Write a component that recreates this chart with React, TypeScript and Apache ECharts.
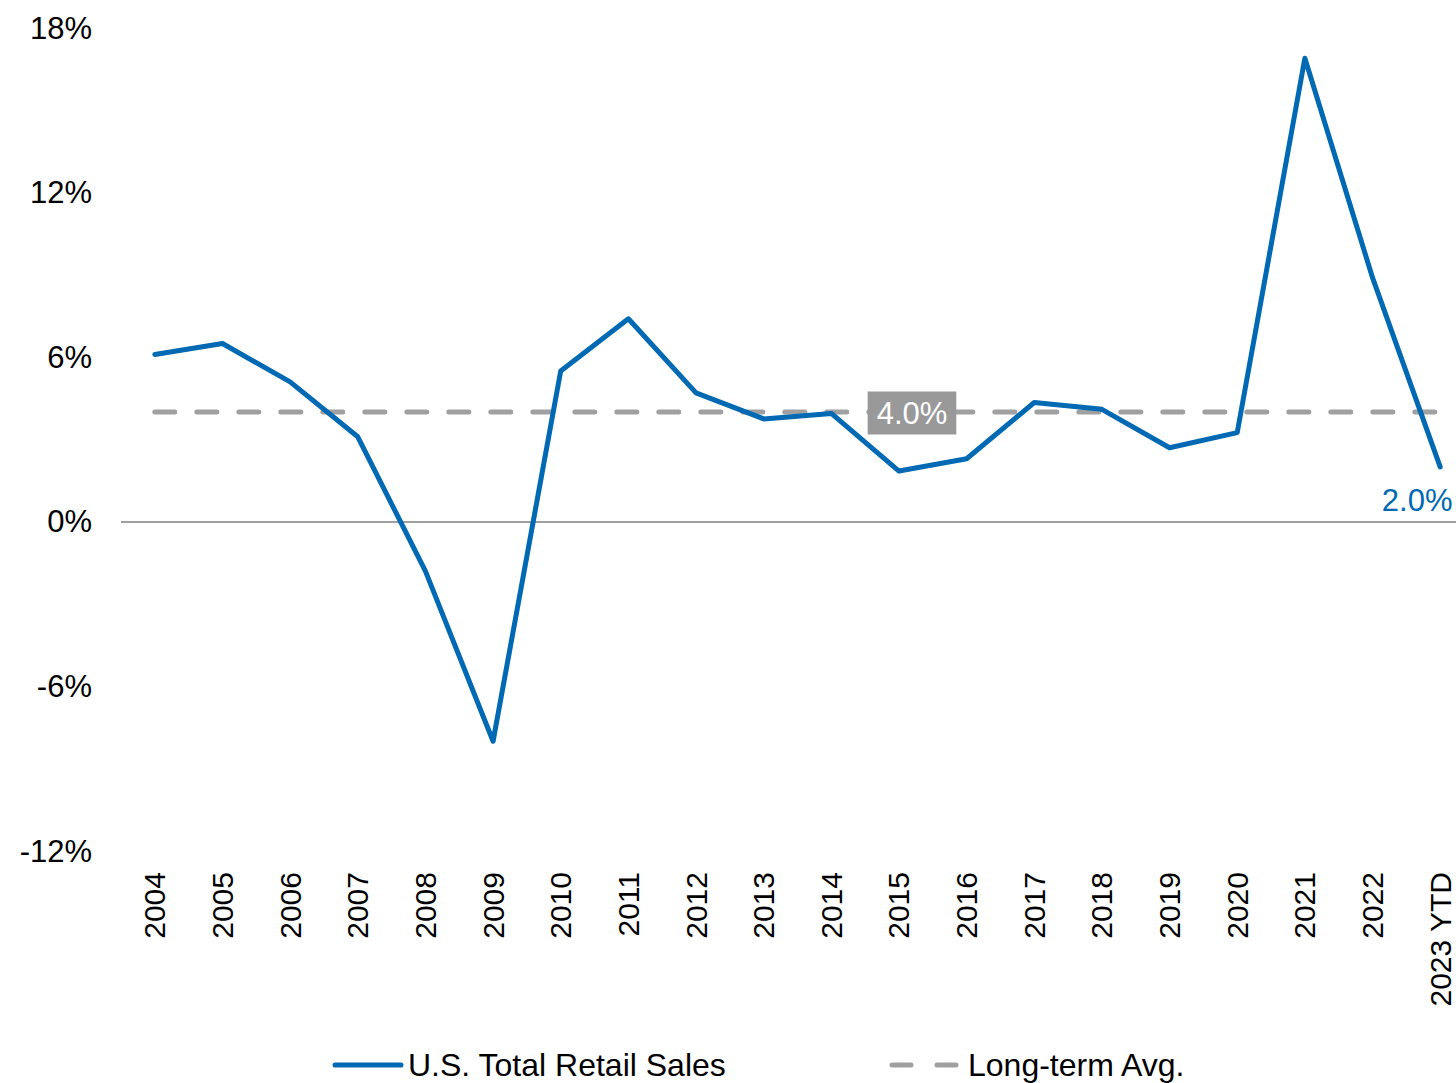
import React, { useEffect, useRef } from "react";
import * as echarts from "echarts";

const categories = [
  "2004", "2005", "2006", "2007", "2008", "2009", "2010", "2011", "2012", "2013",
  "2014", "2015", "2016", "2017", "2018", "2019", "2020", "2021", "2022", "2023 YTD",
];
const retailSales = [
  6.1, 6.5, 5.1, 3.1, -1.8, -8.0, 5.5, 7.4, 4.7, 3.75,
  3.95, 1.85, 2.3, 4.35, 4.1, 2.7, 3.25, 16.9, 8.9, 2.0,
];
const longTermAvg = [
  4.0, 4.0, 4.0, 4.0, 4.0, 4.0, 4.0, 4.0, 4.0, 4.0,
  4.0, 4.0, 4.0, 4.0, 4.0, 4.0, 4.0, 4.0, 4.0, 4.0,
];
const yMin = -12;
const yMax = 18;
const yInterval = 6;
const avgLabelIndex = 11;
const seriesNames = ["U.S. Total Retail Sales", "Long-term Avg."];

const FONT = "'Liberation Sans', Arial, sans-serif";
const BLUE = "#0069b4";
const GREY = "#a0a0a0";

export default function App() {
  const ref = useRef<HTMLDivElement>(null);

  useEffect(() => {
    if (!ref.current) return;
    const chart = echarts.init(ref.current, null, { renderer: "svg" });
    const last = retailSales.length - 1;
    chart.setOption({
      animation: false,
      backgroundColor: "#ffffff",
      textStyle: { fontFamily: FONT },
      grid: { left: 121, right: 0, top: 28, bottom: 232, containLabel: false },
      graphic: [
        {
          type: "line",
          shape: { x1: 335, y1: 1065, x2: 401, y2: 1065 },
          style: { stroke: BLUE, lineWidth: 5, lineCap: "round" },
          silent: true,
        },
        {
          type: "text",
          x: 408,
          y: 1065,
          style: {
            text: seriesNames[0],
            fontSize: 32,
            fontFamily: FONT,
            fill: "#000",
            verticalAlign: "middle",
            textAlign: "left",
          },
          silent: true,
        },
        {
          type: "line",
          shape: { x1: 892, y1: 1065, x2: 956, y2: 1065 },
          style: { stroke: GREY, lineWidth: 5, lineCap: "round", lineDash: [19, 26] },
          silent: true,
        },
        {
          type: "text",
          x: 968,
          y: 1065,
          style: {
            text: seriesNames[1],
            fontSize: 32,
            fontFamily: FONT,
            fill: "#000",
            verticalAlign: "middle",
            textAlign: "left",
          },
          silent: true,
        },
      ],
      xAxis: {
        type: "category",
        data: categories,
        boundaryGap: true,
        axisLine: { show: false },
        axisTick: { show: false },
        axisLabel: {
          rotate: 90,
          margin: 21,
          fontSize: 30,
          color: "#000",
          fontFamily: FONT,
          interval: 0,
        },
      },
      yAxis: {
        type: "value",
        min: yMin,
        max: yMax,
        interval: yInterval,
        axisLine: { show: false },
        axisTick: { show: false },
        splitLine: { show: false },
        axisLabel: {
          formatter: "{value}%",
          margin: 29,
          fontSize: 31,
          color: "#000",
          fontFamily: FONT,
        },
      },
      series: [
        {
          name: seriesNames[0],
          type: "line",
          data: retailSales,
          symbol: "none",
          z: 3,
          lineStyle: { color: BLUE, width: 5, cap: "round", join: "round" },
          itemStyle: { color: BLUE },
          markLine: {
            silent: true,
            symbol: ["none", "none"],
            label: { show: false },
            lineStyle: { color: "#808080", width: 1.5, type: "solid" },
            data: [{ yAxis: 0 }],
            z: 1,
          },
          markPoint: {
            symbol: "rect",
            symbolSize: [1, 1],
            itemStyle: { color: "rgba(0,0,0,0)" },
            silent: true,
            data: [
              {
                coord: [categories[last], retailSales[last]],
                value: retailSales[last],
                label: {
                  show: true,
                  position: "inside",
                  offset: [-23, 34],
                  formatter: retailSales[last].toFixed(1) + "%",
                  color: BLUE,
                  fontSize: 31,
                  fontFamily: FONT,
                },
              },
            ],
          },
        },
        {
          name: seriesNames[1],
          type: "line",
          data: longTermAvg,
          symbol: "none",
          z: 2,
          lineStyle: { color: GREY, width: 5, type: [20, 22], cap: "round" },
          itemStyle: { color: GREY },
          markPoint: {
            symbol: "rect",
            symbolSize: [1, 1],
            itemStyle: { color: "rgba(0,0,0,0)" },
            silent: true,
            z: 5,
            data: [
              {
                coord: [categories[avgLabelIndex], longTermAvg[avgLabelIndex]],
                value: longTermAvg[avgLabelIndex],
                label: {
                  show: true,
                  position: "inside",
                  offset: [13, 1],
                  formatter: longTermAvg[avgLabelIndex].toFixed(1) + "%",
                  color: "#ffffff",
                  backgroundColor: "#999999",
                  padding: [7, 9, 5, 9],
                  fontSize: 31,
                  fontFamily: FONT,
                },
              },
            ],
          },
        },
      ],
    });
    return () => chart.dispose();
  }, []);

  return (
    <div
      style={{
        position: "absolute",
        left: 0,
        top: 0,
        width: 1456,
        height: 1083,
        overflow: "hidden",
        background: "#fff",
      }}
    >
      <div ref={ref} style={{ width: 1474, height: 1083 }} />
    </div>
  );
}
